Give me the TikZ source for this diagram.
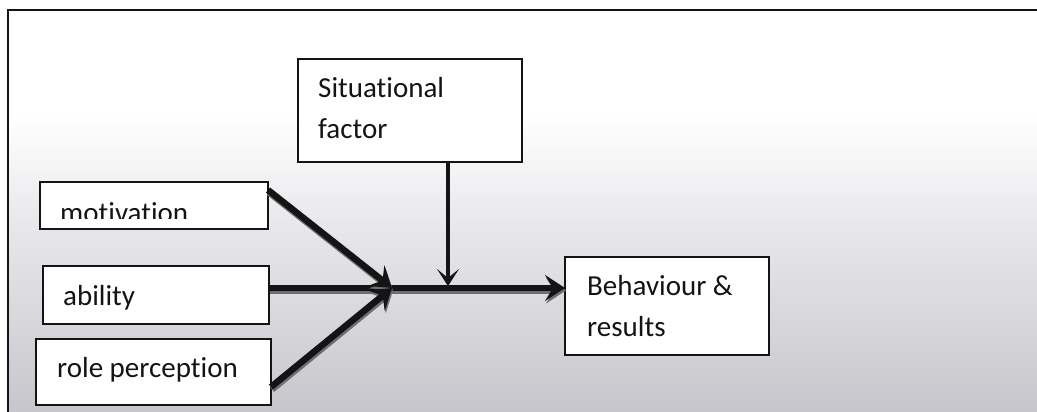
\documentclass[tikz,border=0pt]{standalone}
\usepackage{fontspec}
\setmainfont[RawFeature={-liga;-clig;-dlig}]{Carlito}
\usetikzlibrary{arrows.meta,calc}
\definecolor{bgbot}{RGB}{198,198,204}
\definecolor{bgmid}{RGB}{230,230,234}
\definecolor{ink}{RGB}{20,20,20}
\definecolor{shadowc}{RGB}{110,110,115}
\tikzset{
  box/.style={draw=ink, line width=1.5pt, fill=white, anchor=north west, inner sep=0pt, outer sep=0pt},
  lbl/.style={anchor=base west, inner sep=0pt, font=\fontsize{29}{40}\selectfont, text=ink},
  thick arrow/.style={draw=ink, line width=6.5pt, -{Stealth[length=20pt,width=26pt,inset=8pt]},
    preaction={draw=shadowc, line width=6.5pt, transform canvas={shift={(1pt,-2.5pt)}}}},
  thin arrow/.style={draw=ink, line width=4pt, -{Stealth[length=17pt,width=22pt,inset=9pt]}},
  frame/.style={draw=ink, line width=2pt}
}
\begin{document}
\begin{tikzpicture}[x=1pt,y=-1pt]
\useasboundingbox (0,0) rectangle (1037,412);
% background
\fill[white] (0,0) rectangle (1037,412);
\shade[top color=white, bottom color=bgmid] (8,115) rectangle (1037,235);
\shade[top color=bgmid, bottom color=bgbot] (8,235) rectangle (1037,412);
% frame
\draw[frame] (1037,10) -- (8,10) -- (8,412);
% boxes
\node[box, minimum width=224pt, minimum height=103pt] (sit) at (298,59) {};
\node[box, minimum width=228pt, minimum height=47pt] (mot) at (40,182) {};
\node[box, minimum width=226pt, minimum height=58pt] (abl) at (43,266) {};
\node[box, minimum width=235pt, minimum height=66pt] (rol) at (36,339) {};
\node[box, minimum width=204pt, minimum height=98pt] (beh) at (565,257) {};
% texts
\node[lbl] (tsit1) at (318,98) {Situational};
\node[lbl] (tsit2) at (318,138) {factor};
\begin{scope}
\clip (40,182) rectangle (268,218);
\node[lbl] (tmot) at (60,222) {motivation};
\end{scope}
\node[lbl] (tabl) at (63,305) {ability};
\node[lbl] (trol) at (57,377) {role perception};
\node[lbl] (tbeh1) at (587,295) {Behaviour \&};
\node[lbl] (tbeh2) at (587,336) {results};
% connectors
\coordinate (J) at (392,288);
\coordinate (S) at (448,286);
\draw[thick arrow] (abl.east |- J) -- (beh.west |- J);
\draw[thick arrow] ($(mot.north east)+(0,8)$) -- (J);
\draw[thick arrow] ($(rol.south east)+(0,-18)$) -- (J);
\draw[thin arrow] (sit.south -| S) -- (S);
\end{tikzpicture}
\end{document}
